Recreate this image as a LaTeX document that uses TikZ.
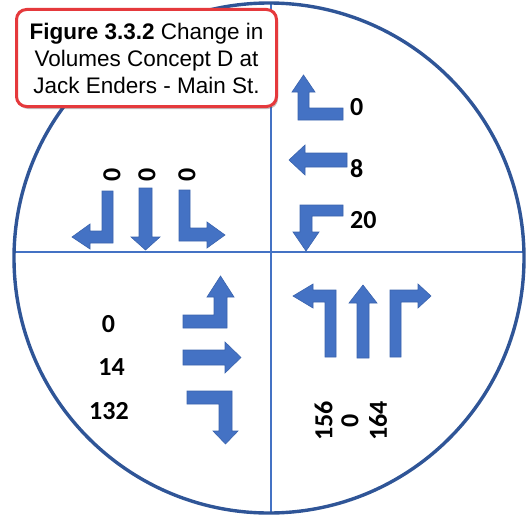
\documentclass[tikz,border=0pt]{standalone}
\usepackage{fontspec}
\setmainfont{Liberation Sans}
\newfontfamily\numfont{Carlito}
\usetikzlibrary{shadows}
\definecolor{ringblue}{HTML}{2F5597}
\definecolor{axisblue}{HTML}{4472C4}
\definecolor{arrowfill}{HTML}{4472C4}
\definecolor{arrowedge}{HTML}{3A63AD}
\definecolor{boxred}{HTML}{E5393C}
\tikzset{
  ring/.style={draw=ringblue, line width=3.4pt},
  axis/.style={draw=axisblue, line width=1.4pt},
  blockarrow/.style={fill=arrowfill, draw=arrowedge, line width=0.6pt, line join=miter},
  count/.style={font=\numfont\bfseries\fontsize{26}{26}\selectfont, inner sep=0pt},
  vcount/.style={count, rotate=90},
  titlebox/.style={draw=boxred, line width=3pt, fill=white, rounded corners=10pt,
    minimum width=260pt, minimum height=97pt, align=center, inner sep=0pt,
    font=\fontsize{22.5}{27}\selectfont,
    drop shadow={shadow xshift=1.5pt, shadow yshift=-2.5pt, opacity=0.35, fill=black!70}}
}
\begin{document}
\begin{tikzpicture}[x=1pt, y=-1pt]
\useasboundingbox (0,0) rectangle (526,516);

% intersection circle and the two road axes
\coordinate (c) at (269,258);
\coordinate (w) at (14,252);
\coordinate (e) at (524,252);
\coordinate (n) at (271,3);
\coordinate (s) at (271,513);
\draw[axis] (w) -- (e);
\draw[axis] (n) -- (s);
\draw[ring] (c) circle[radius=255];

% title callout
\node[titlebox] (title) at (146.5,58) {\textbf{Figure 3.3.2} Change in\\Volumes Concept D at\\Jack Enders - Main St.};

% east approach (westbound): right turn, through, left turn
\fill[blockarrow] (343,108) -- (309,108) -- (309,92) -- (315,92) -- (303.5,75) -- (292,92) -- (298,92) -- (298,120) -- (343,120) -- cycle;
\fill[blockarrow] (347,153) -- (305,153) -- (305,145) -- (289,160) -- (305,175) -- (305,167) -- (347,167) -- cycle;
\fill[blockarrow] (343,205) -- (300,205) -- (300,232) -- (293,232) -- (306,251) -- (319,232) -- (312,232) -- (312,216) -- (343,216) -- cycle;
\node[count, anchor=west] (e1) at (350,107) {0};
\node[count, anchor=west] (e2) at (350,169) {8};
\node[count, anchor=west] (e3) at (350,220) {20};

% north approach (southbound): right turn, through, left turn
\fill[blockarrow] (102,191) -- (113,191) -- (113,243) -- (90,243) -- (90,249) -- (72,237) -- (90,224) -- (90,231) -- (102,231) -- cycle;
\fill[blockarrow] (139,188) -- (152,188) -- (152,237) -- (160,237) -- (145.5,250) -- (131,237) -- (139,237) -- cycle;
\fill[blockarrow] (179,190) -- (190,190) -- (190,228) -- (207,228) -- (207,222) -- (225,235) -- (207,248) -- (207,241) -- (179,241) -- cycle;
\node[vcount] (n1) at (112,175) {0};
\node[vcount] (n2) at (147,175) {0};
\node[vcount] (n3) at (187,175) {0};

% west approach (eastbound): left turn, through, right turn
\fill[blockarrow] (183,315) -- (214,315) -- (214,297) -- (207,297) -- (220.5,276) -- (234,297) -- (227,297) -- (227,328) -- (183,328) -- cycle;
\fill[blockarrow] (183,350) -- (225,350) -- (225,342) -- (241,357.5) -- (225,373) -- (225,365) -- (183,365) -- cycle;
\fill[blockarrow] (187,391) -- (232,391) -- (232,431) -- (238,431) -- (225.5,444) -- (213,431) -- (219,431) -- (219,404) -- (187,404) -- cycle;
\node[count] (w1) at (108.5,324) {0};
\node[count] (w2) at (111.5,367) {14};
\node[count] (w3) at (109,411) {132};

% south approach (northbound): left turn, through, right turn
\fill[blockarrow] (336,357) -- (325,357) -- (325,302) -- (313,302) -- (313,308) -- (293,296) -- (313,284) -- (313,290) -- (336,290) -- cycle;
\fill[blockarrow] (357,358) -- (357,303) -- (349,303) -- (363,285) -- (377,303) -- (369,303) -- (369,358) -- cycle;
\fill[blockarrow] (390,357) -- (390,290) -- (418,290) -- (418,284) -- (431,296) -- (418,308) -- (418,302) -- (401,302) -- (401,357) -- cycle;
\node[vcount] (s1) at (323.5,421) {156};
\node[vcount] (s2) at (350,421) {0};
\node[vcount] (s3) at (378,421) {164};
\end{tikzpicture}
\end{document}
